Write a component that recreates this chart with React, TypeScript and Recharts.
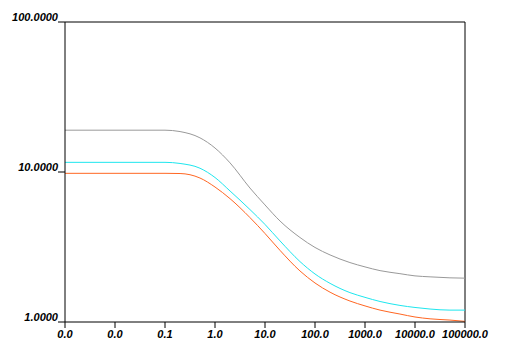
import React from 'react';
import { LineChart, Line, XAxis, YAxis, ReferenceLine } from 'recharts';

const xValues = [0.001, 0.01, 0.1, 0.2, 0.5, 1, 2, 5, 10, 20, 50, 100, 200, 500, 1000, 2000, 5000, 10000, 20000, 50000, 100000];
const grayValues = [19.0, 19.0, 19.0, 18.6, 16.9, 14.45, 11.5, 7.82, 6.03, 4.71, 3.66, 3.14, 2.8, 2.49, 2.33, 2.2, 2.1, 2.03, 2.0, 1.97, 1.96];
const cyanValues = [11.6, 11.6, 11.6, 11.4, 10.6, 9.19, 7.47, 5.62, 4.47, 3.47, 2.53, 2.09, 1.81, 1.57, 1.46, 1.37, 1.29, 1.25, 1.22, 1.2, 1.2];
const orangeValues = [9.8, 9.8, 9.8, 9.77, 9.12, 7.94, 6.64, 4.97, 3.89, 3.0, 2.19, 1.82, 1.58, 1.38, 1.28, 1.2, 1.13, 1.08, 1.05, 1.03, 1.01];

const xTicks = [0.001, 0.01, 0.1, 1, 10, 100, 1000, 10000, 100000];
const yTicks = [1, 10, 100];

const chartData = xValues.map((x, i) => ({
  x,
  gray: grayValues[i],
  cyan: cyanValues[i],
  orange: orangeValues[i],
}));

const fontStyle = {
  fontFamily: '"Liberation Sans", Arial, sans-serif',
  fontSize: 11,
  fontStyle: 'italic' as const,
  fontWeight: 'bold' as const,
  fill: '#000000',
};

const XTick = (props: any) => {
  const { x, y, payload } = props;
  return (
    <text x={x} y={y} dy={8} textAnchor="middle" {...fontStyle}>
      {Number(payload.value).toFixed(1)}
    </text>
  );
};

const YTick = (props: any) => {
  const { x, y, payload } = props;
  return (
    <text x={x} y={y} dy={-1} textAnchor="end" {...fontStyle}>
      {Number(payload.value).toFixed(4)}
    </text>
  );
};

export default function App() {
  return (
    <div style={{ position: 'absolute', left: 0, top: 0, background: '#ffffff' }}>
      <LineChart
        width={511}
        height={360}
        data={chartData}
        margin={{ top: 22, right: 46, bottom: 0, left: 0 }}
      >
        <XAxis
          dataKey="x"
          type="number"
          scale="log"
          domain={[0.001, 100000]}
          ticks={xTicks}
          interval={0}
          allowDataOverflow
          height={38}
          tickSize={6}
          tickMargin={2}
          stroke="#000000"
          tick={<XTick />}
        />
        <YAxis
          type="number"
          scale="log"
          domain={[1, 100]}
          ticks={yTicks}
          interval={0}
          allowDataOverflow
          width={65}
          tickSize={7}
          tickMargin={0}
          stroke="#000000"
          tick={<YTick />}
        />
        <ReferenceLine y={100} stroke="#000000" />
        <ReferenceLine x={100000} stroke="#000000" />
        <Line dataKey="gray" type="monotone" stroke="#999999" strokeWidth={1} dot={false} isAnimationActive={false} />
        <Line dataKey="cyan" type="monotone" stroke="#1ee6ee" strokeWidth={1} dot={false} isAnimationActive={false} />
        <Line dataKey="orange" type="monotone" stroke="#ff6622" strokeWidth={1} dot={false} isAnimationActive={false} />
      </LineChart>
    </div>
  );
}
